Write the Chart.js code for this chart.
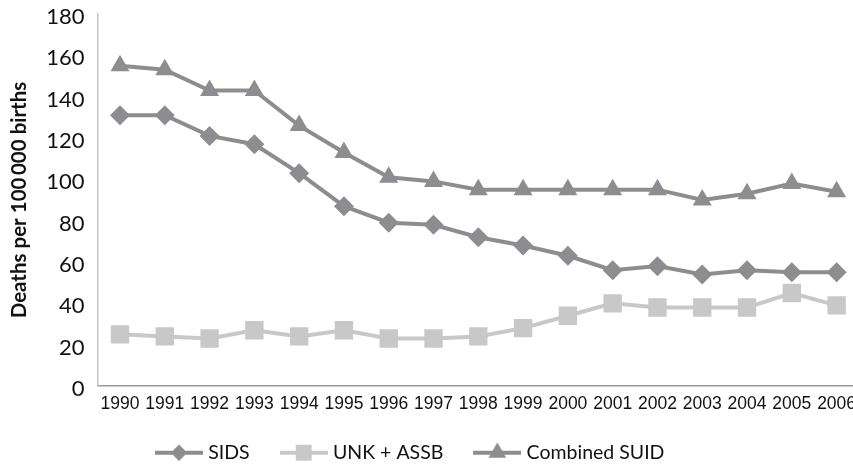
<!DOCTYPE html>
<html>
<head>
<meta charset="utf-8">
<script src="https://cdn.jsdelivr.net/npm/chart.js@4.4.1/dist/chart.umd.min.js"></script>
<style>
  html, body { margin: 0; padding: 0; background: #fff; overflow: hidden; }
  #wrap { width: 853px; height: 464px; overflow: hidden; position: relative; }
  canvas { display: block; }
</style>
</head>
<body>
<div id="wrap"><canvas id="c" width="872" height="464" style="width:872px;height:464px"></canvas></div>
<script>
const years = ['1990','1991','1992','1993','1994','1995','1996','1997','1998','1999','2000','2001','2002','2003','2004','2005','2006'];
const sids = [131, 131, 121, 117, 103, 87, 79, 78, 72, 68, 63, 56, 58, 54, 56, 55, 55];
const unkAssb = [25, 24, 23, 27, 24, 27, 23, 23, 24, 28, 34, 40, 38, 38, 38, 45, 39];
const combinedSuid = [155, 153, 143, 143, 126, 113, 101, 99, 95, 95, 95, 95, 95, 90, 93, 98, 94];
const yTicks = [0, 20, 40, 60, 80, 100, 120, 140, 160, 180];
const seriesNames = ['SIDS', 'UNK + ASSB', 'Combined SUID'];
const yTitle = 'Deaths per 100\u2009000 births';

const darkGray = 'rgb(141,141,145)';
const lightGray = 'rgb(200,200,201)';

function legendIcon(color, style, r) {
  const c = document.createElement('canvas');
  c.width = 48; c.height = 24;
  const ctx = c.getContext('2d');
  ctx.strokeStyle = color; ctx.lineWidth = 4;
  ctx.beginPath(); ctx.moveTo(0, 12); ctx.lineTo(48, 12); ctx.stroke();
  ctx.fillStyle = color;
  Chart.helpers.drawPoint(ctx, {pointStyle: style, radius: r, borderWidth: 0, rotation: 0}, 24, 12);
  ctx.fill();
  return c;
}

const styles = [
  {color: darkGray, style: 'rectRot', r: 10},
  {color: lightGray, style: 'rect', r: 13},
  {color: darkGray, style: 'triangle', r: 11}
];
const legendStyles = [
  {color: darkGray, style: 'rectRot', r: 8},
  {color: lightGray, style: 'rect', r: 11},
  {color: darkGray, style: 'triangle', r: 10}
];
const dataArrays = [sids, unkAssb, combinedSuid];

const datasets = dataArrays.map((d, i) => ({
  label: seriesNames[i],
  data: d,
  borderColor: styles[i].color,
  backgroundColor: styles[i].color,
  borderWidth: 4,
  pointStyle: styles[i].style,
  pointRadius: styles[i].r,
  pointHoverRadius: styles[i].r,
  pointBorderWidth: 0,
  pointBackgroundColor: styles[i].color,
  tension: 0,
  order: i === 1 ? 3 : (i === 0 ? 2 : 1)
}));

const icons = legendStyles.map(s => legendIcon(s.color, s.style, s.r));
const LEGEND_PAD = 34.5;

new Chart(document.getElementById('c'), {
  type: 'line',
  data: { labels: years, datasets: datasets },
  options: {
    responsive: false,
    animation: false,
    devicePixelRatio: 1,
    layout: { padding: { top: 14, right: 12, left: 0, bottom: 0 } },
    plugins: {
      tooltip: { enabled: false },
      legend: {
        position: 'bottom',
        align: 'start',
        maxHeight: 30,
        labels: {
          usePointStyle: true,
          pointStyleWidth: 39,
          padding: LEGEND_PAD,
          color: '#111',
          font: { family: 'Lato', size: 19.5 },
          generateLabels: (chart) => chart.data.datasets.map((ds, i) => ({
            text: ds.label,
            pointStyle: icons[i],
            fillStyle: ds.borderColor,
            strokeStyle: ds.borderColor,
            lineWidth: 0,
            hidden: false,
            datasetIndex: i,
            fontColor: '#111'
          }))
        }
      }
    },
    scales: {
      x: {
        type: 'category',
        offset: true,
        grid: { display: false, drawTicks: false },
        border: { color: '#9a9a9a', width: 1.5 },
        ticks: {
          font: { family: 'Liberation Sans', size: 17.5 },
          color: '#111',
          maxRotation: 0,
          minRotation: 0,
          autoSkip: false,
          padding: 8
        },
        afterFit: (s) => { s.height = 48; }
      },
      y: {
        min: 0, max: 180,
        afterBuildTicks: (s) => { s.ticks = yTicks.map(v => ({value: v})); },
        grid: { display: false, drawTicks: false },
        border: { color: '#c4c4c4', width: 1.5 },
        ticks: {
          font: { family: 'Lato', size: 22 },
          color: '#111',
          padding: 13,
          labelOffset: 3
        },
        title: {
          display: true,
          text: yTitle,
          font: { family: 'Lato', size: 20.5, weight: 'bold' },
          color: '#111',
          padding: { top: 7, bottom: 0 }
        },
        afterFit: (s) => { s.width = 97.6; s.paddingTop = 0; s.paddingBottom = 0; }
      }
    }
  },
  plugins: [{
    id: 'legendPlace',
    afterUpdate(chart) {
      const lg = chart.legend;
      if (!lg) return;
      const w = lg.right - lg.left;
      lg.left = 159.5 - LEGEND_PAD;
      lg.right = lg.left + w;
      lg.top = 453 - LEGEND_PAD - 10;
      lg.bottom = chart.height;
      lg.height = lg.bottom - lg.top;
    }
  }]
});
</script>
</body>
</html>
